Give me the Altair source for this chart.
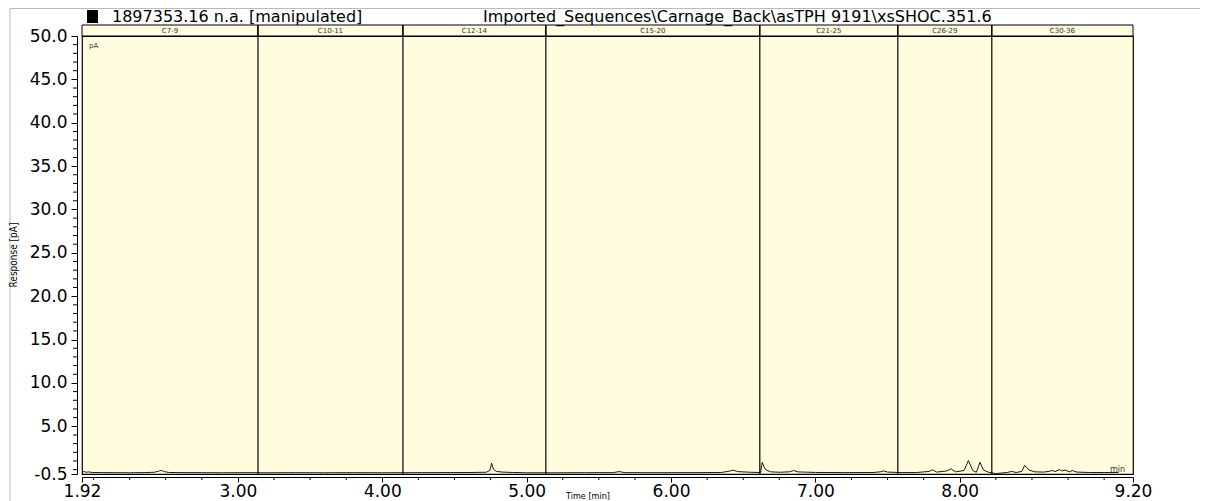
import altair as alt
import pandas as pd

# ---- chromatogram trace (time [min], response [pA]) ----
times = [1.92, 1.935, 1.95, 1.965, 1.99, 2.05, 2.15, 2.25, 2.35, 2.42, 2.45, 2.47, 2.49, 2.52,
         2.60, 2.75, 2.90, 3.05, 3.20, 3.40, 3.60, 3.80, 4.00, 4.20, 4.40, 4.60, 4.72,
         4.745, 4.757, 4.77, 4.79, 4.83, 4.90, 5.00, 5.20, 5.40, 5.60, 5.64, 5.68, 5.80,
         6.00, 6.20, 6.35, 6.41, 6.43, 6.46, 6.55, 6.62, 6.632, 6.645, 6.66, 6.69, 6.75,
         6.82, 6.85, 6.88, 7.00, 7.20, 7.40, 7.45, 7.47, 7.50, 7.60, 7.70, 7.79, 7.81,
         7.84, 7.91, 7.94, 7.97, 8.03, 8.06, 8.09, 8.115, 8.14, 8.165, 8.20, 8.25, 8.33,
         8.36, 8.39, 8.43, 8.45, 8.48, 8.52, 8.58, 8.62, 8.64, 8.66, 8.69, 8.71, 8.73,
         8.76, 8.78, 8.81, 8.90, 9.00, 9.10]
resp = [-0.28, -0.22, -0.30, -0.26, -0.32, -0.34, -0.35, -0.36, -0.34, -0.30, -0.18, -0.08, -0.22, -0.32,
        -0.34, -0.35, -0.36, -0.35, -0.36, -0.35, -0.36, -0.35, -0.36, -0.35, -0.34, -0.33, -0.30,
        -0.10, 0.75, 0.05, -0.20, -0.28, -0.32, -0.36, -0.36, -0.35, -0.34, -0.22, -0.34, -0.35,
        -0.35, -0.34, -0.32, -0.15, -0.05, -0.22, -0.30, -0.33, 0.85, 0.30, -0.05, -0.25, -0.30,
        -0.25, -0.10, -0.26, -0.32, -0.34, -0.33, -0.25, -0.15, -0.28, -0.34, -0.33, -0.20, 0.00,
        -0.28, -0.15, 0.10, -0.25, -0.10, 1.05, -0.10, -0.30, 0.85, -0.05, -0.30, -0.45, -0.32,
        -0.20, -0.33, -0.20, 0.50, -0.05, -0.25, -0.28, -0.20, -0.08, -0.22, 0.00, -0.15, -0.05,
        -0.25, -0.10, -0.28, -0.33, -0.33, -0.32]

# ---- carbon-range sections ----
sec_label = ["C7-9", "C10-11", "C12-14", "C15-20", "C21-25", "C26-29", "C30-36"]
sec_start = [1.92, 3.139, 4.143, 5.133, 6.615, 7.571, 8.222]
sec_end = [3.139, 4.143, 5.133, 6.615, 7.571, 8.222, 9.20]
boundaries = [3.139, 4.143, 5.133, 6.615, 7.571, 8.222]

# ---- axis ticks ----
x_tick_values = [1.92, 3.00, 4.00, 5.00, 6.00, 7.00, 8.00, 9.20]
x_minor = [2.00, 2.25, 2.50, 2.75, 3.25, 3.50, 3.75, 4.25, 4.50, 4.75, 5.25, 5.50, 5.75,
           6.25, 6.50, 6.75, 7.25, 7.50, 7.75, 8.25, 8.50, 8.75, 9.00]
y_tick_values = [-0.5, 5.0, 10.0, 15.0, 20.0, 25.0, 30.0, 35.0, 40.0, 45.0, 50.0]
y_minor = [0, 1, 2, 3, 4, 6, 7, 8, 9, 11, 12, 13, 14, 16, 17, 18, 19, 21, 22, 23, 24,
           26, 27, 28, 29, 31, 32, 33, 34, 36, 37, 38, 39, 41, 42, 43, 44, 46, 47, 48, 49]

title_left = "1897353.16 n.a.  [manipulated]"
title_right = "Imported_Sequences\\Carnage_Back\\asTPH 9191\\xsSHOC.351.6"

W, H = 1051, 438
FONT = "DejaVu Sans"
BG = "#FFFDDD"

trace_df = pd.DataFrame({"t": times, "r": resp})
sec_df = pd.DataFrame({"label": sec_label, "s": sec_start, "e": sec_end})
bnd_df = pd.DataFrame({"b": boundaries})
xm_df = pd.DataFrame({"t": x_minor})
ym_df = pd.DataFrame({"v": y_minor})
one = pd.DataFrame({"a": [0]})

xscale = alt.Scale(domain=[1.92, 9.20], nice=False, zero=False)
yscale = alt.Scale(domain=[-0.5, 50.0], nice=False, zero=False)

trace = alt.Chart(trace_df).mark_line(color="#1a1a1a", strokeWidth=1, clip=True).encode(
    x=alt.X("t:Q", scale=xscale, axis=alt.Axis(
        values=x_tick_values, format=".2f", title=None, grid=False, offset=3,
        labelFont=FONT, labelFontSize=17, labelColor="black", labelPadding=1,
        tickColor="black", tickSize=5, domainColor="black", labelOverlap=False,
        labelFlush=False)),
    y=alt.Y("r:Q", scale=yscale, axis=alt.Axis(
        values=y_tick_values, title=None, grid=False, offset=5,
        labelExpr="datum.value < 0 ? '-0.5' : format(datum.value, '.1f')",
        labelFont=FONT, labelFontSize=17, labelColor="black", labelPadding=4,
        tickColor="black", tickSize=6, domainColor="black", labelOverlap=False,
        labelFlush=False, labelBaseline="middle")),
)

bounds = alt.Chart(bnd_df).mark_rule(color="black", strokeWidth=1.2).encode(
    x=alt.X("b:Q", scale=xscale), y=alt.value(-11), y2=alt.value(H))

header = alt.Chart(sec_df).mark_rect(fill=BG, stroke="black", strokeWidth=1).encode(
    x=alt.X("s:Q", scale=xscale), x2="e:Q", y=alt.value(-11), y2=alt.value(0))

header_text = alt.Chart(sec_df).transform_calculate(m="(datum.s + datum.e) / 2").mark_text(
    font=FONT, fontSize=7, color="#333333", baseline="middle", align="center").encode(
    x=alt.X("m:Q", scale=xscale), y=alt.value(-5.5), text="label:N")

xminor = alt.Chart(xm_df).mark_rule(color="black", strokeWidth=1).encode(
    x=alt.X("t:Q", scale=xscale), y=alt.value(H + 3), y2=alt.value(H + 6))

yminor = alt.Chart(ym_df).mark_rule(color="black", strokeWidth=1).encode(
    y=alt.Y("v:Q", scale=yscale), x=alt.value(-5), x2=alt.value(-9))

square = alt.Chart(one).mark_rect(color="black").encode(
    x=alt.value(5), x2=alt.value(16), y=alt.value(-26), y2=alt.value(-13))

t_left = alt.Chart(one).mark_text(font=FONT, fontSize=16, align="left", baseline="alphabetic",
                                  color="black", text=title_left).encode(
    x=alt.value(30), y=alt.value(-14))
t_right = alt.Chart(one).mark_text(font=FONT, fontSize=16, align="left", baseline="alphabetic",
                                   color="black", text=title_right).encode(
    x=alt.value(401), y=alt.value(-14))

pa = alt.Chart(one).mark_text(font=FONT, fontSize=7, align="left", baseline="top",
                              color="#333333", text="pA").encode(
    x=alt.value(7), y=alt.value(6))
minlab = alt.Chart(one).mark_text(font=FONT, fontSize=8, align="left", baseline="alphabetic",
                                  color="#333333", text="min").encode(
    x=alt.value(1028), y=alt.value(436))

ytitle = alt.Chart(one).mark_text(font="Liberation Sans Narrow, DejaVu Sans Condensed, sans-serif",
                                  fontSize=10, angle=270, align="center", baseline="middle",
                                  color="black", text="Response [pA]").encode(
    x=alt.value(-68), y=alt.value(H / 2))
xtitle = alt.Chart(one).mark_text(font="Liberation Sans Narrow, DejaVu Sans Condensed, sans-serif",
                                  fontSize=9, align="center", baseline="top",
                                  color="black", text="Time [min]").encode(
    x=alt.value(506), y=alt.value(H + 18))

frame_h = alt.Chart(one).mark_rule(color="#bbbbbb", strokeWidth=1).encode(
    x=alt.value(-72), x2=alt.value(1120), y=alt.value(-27.5))
frame_v = alt.Chart(one).mark_rule(color="#bbbbbb", strokeWidth=1).encode(
    x=alt.value(-72), y=alt.value(-27.5), y2=alt.value(H + 40))

chart = alt.layer(
    frame_h, frame_v, header, trace, bounds, header_text, xminor, yminor,
    square, t_left, t_right, pa, minlab, ytitle, xtitle
).properties(
    width=W, height=H,
    autosize=alt.AutoSizeParams(type="none"),
    padding={"left": 74, "top": 28, "right": 67, "bottom": 27},
).configure_view(fill=BG, stroke="black", strokeWidth=1.2)

chart.save("out.html", embed_options={"renderer": "svg", "actions": False})
